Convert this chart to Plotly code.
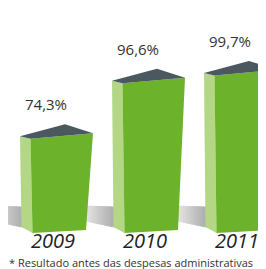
import plotly.graph_objects as go

years = ["2009", "2010", "2011"]
values = [74.3, 96.6, 99.7]
value_labels = ["74,3%", "96,6%", "99,7%"]
footnote = "* Resultado antes das despesas administrativas"

W, H = 266, 269
K = 2.496          # px per value unit on y
Y_TOP = 125.72     # value at top edge
Y_BOT = Y_TOP - H / K
FLOOR = 35.58      # base value where the bars stand
PXU = 92.0         # px per category step on x
X0 = -48.5 / PXU
X1 = X0 + W / PXU

GREEN = "#6cb22a"
LIGHT = "#b3d785"
ROOF = "#4b585f"

def X(i, off):
    return i + (off - 36.5) / PXU

def Yv(v, dpx):
    return v - dpx / K

fig = go.Figure()

# shadows (gradient made of overlapping strips)
for i in range(len(values)):
    n = 12
    for s in range(n):
        a0, a1 = s / n, (s + 1) / n
        o0, o1 = -32 + 33 * a0, -32 + 33 * a1 + 1.5
        t0, t1 = -27 + 1 * a0, -27 + 1 * a1
        b0, b1 = -13 + 7 * a0, -13 + 7 * a1
        g = int(240 - 65 * ((a0 + a1) / 2))
        col = f"rgb({g},{g},{g})"
        fig.add_trace(go.Scatter(
            x=[X(i, o0), X(i, o1), X(i, o1), X(i, o0)],
            y=[Yv(FLOOR, t0), Yv(FLOOR, t1), Yv(FLOOR, b1), Yv(FLOOR, b0)],
            fill="toself", fillcolor=col, mode="lines", line=dict(width=0.8, color=col),
            hoverinfo="skip"))

for i, v in enumerate(values):
    # light side
    fig.add_trace(go.Scatter(
        x=[X(i, 0), X(i, 10.5), X(i, 12.5), X(i, 1.5)],
        y=[Yv(v, 0), Yv(v, 2.5), Yv(FLOOR, 0), Yv(FLOOR, -6)],
        fill="toself", fillcolor=LIGHT, mode="lines", line=dict(width=0, color=LIGHT),
        hoverinfo="skip"))
    # front
    fig.add_trace(go.Scatter(
        x=[X(i, 10.5), X(i, 73), X(i, 66), X(i, 12.5)],
        y=[Yv(v, 2.5), Yv(v, -3), Yv(FLOOR, -3), Yv(FLOOR, 0)],
        fill="toself", fillcolor=GREEN, mode="lines", line=dict(width=0, color=GREEN),
        hoverinfo="skip"))
    # roof
    fig.add_trace(go.Scatter(
        x=[X(i, 0), X(i, 45), X(i, 73), X(i, 10.5)],
        y=[Yv(v, 0), Yv(v, -12), Yv(v, -3), Yv(v, 2.5)],
        fill="toself", fillcolor=ROOF, mode="lines", line=dict(width=0, color=ROOF),
        hoverinfo="skip"))
    fig.add_annotation(x=X(i, 26), y=Yv(v, -32), xref="x", yref="y",
                       text=value_labels[i], showarrow=False,
                       font=dict(family="Open Sans", size=15, color="#333333"))
    fig.add_annotation(x=X(i, 33), y=Yv(FLOOR, 8), xref="x", yref="y",
                       text=f"<i>{years[i]}</i>", showarrow=False, borderpad=0,
                       font=dict(family="Open Sans", size=20, color="#222222"))

fig.add_annotation(x=X0, y=Yv(FLOOR, 30), xref="x", yref="y", xanchor="left",
                   yanchor="middle", xshift=0, text=footnote, showarrow=False,
                   borderpad=0,
                   font=dict(family="Open Sans", size=11, color="#333333"))

fig.update_layout(
    width=W, height=H, margin=dict(l=0, r=0, t=0, b=0),
    paper_bgcolor="white", plot_bgcolor="white", showlegend=False,
    xaxis=dict(range=[X0, X1], visible=False, fixedrange=True),
    yaxis=dict(range=[Y_BOT, Y_TOP], visible=False, fixedrange=True),
)

fig.write_html("out.html")
